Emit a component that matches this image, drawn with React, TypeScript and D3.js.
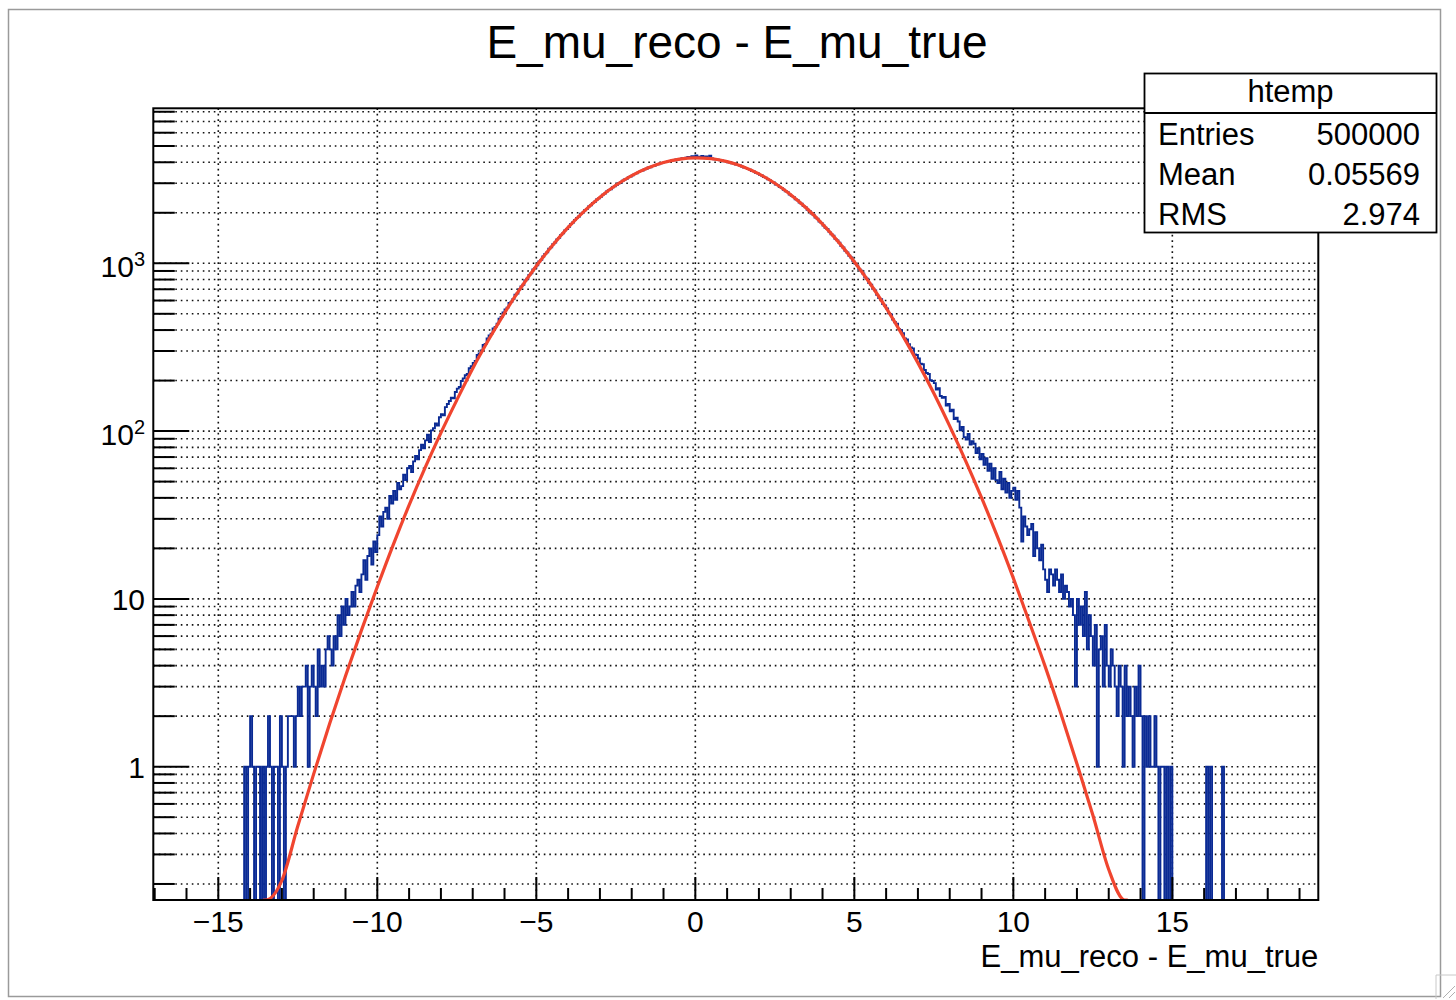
import React from "react";
import * as d3 from "d3";

// ---- histogram binning (htemp) ----
const BIN_START = -14.25;
const BIN_WIDTH = 0.0625;

// counts, left tail [-14.25, -10)
const leftTail = [
  0, 1, 0, 1, 2, 1, 0, 1, 1, 0, 1, 0, 1, 2, 1, 0, 1, 1, 0, 2,
  1, 0, 1, 2, 2, 2, 1, 2, 3, 2, 3, 3, 4, 1, 3, 4, 3, 2, 5, 3,
  4, 3, 5, 6, 5, 4, 6, 5, 8, 6, 9, 7, 10, 8, 9, 11, 9, 12, 13, 11,
  14, 17, 13, 18, 20, 16, 22, 19,
];

// counts, core left [-10, 0)
const coreLeft = [
  24, 31, 27, 33, 35, 30, 41, 37, 44, 39, 49, 45, 47, 55, 51, 60,
  62, 57, 66, 71, 68, 77, 83, 79, 88, 95, 86, 101, 104, 111, 108, 121,
  126, 124, 139, 145, 151, 158, 157, 171, 179, 183, 199, 206, 215, 219, 237, 244,
  255, 262, 284, 290, 302, 326, 331, 356, 372, 381, 409, 418, 437, 468, 479, 510,
  531, 544, 580, 589, 612, 650, 661, 701, 728, 745, 790, 808, 851, 872, 920, 939,
  974, 1025, 1048, 1097, 1136, 1162, 1221, 1245, 1298, 1330, 1389, 1417, 1476, 1508, 1571, 1602,
  1650, 1716, 1749, 1815, 1866, 1901, 1972, 2003, 2071, 2110, 2185, 2219, 2290, 2327, 2401, 2436,
  2489, 2566, 2601, 2677, 2730, 2762, 2841, 2873, 2926, 3001, 3030, 3105, 3158, 3186, 3262, 3290,
  3340, 3410, 3433, 3505, 3550, 3570, 3638, 3656, 3722, 3738, 3801, 3815, 3875, 3886, 3944, 3951,
  4010, 4012, 4068, 4070, 4115, 4108, 4162, 4149, 4190, 4231, 4198, 4262, 4305, 4240, 4352, 4288,
];

// counts, core right [0, 10)
const coreRight = [
  4398, 4310, 4275, 4360, 4280, 4331, 4246, 4372, 4222, 4170, 4190, 4143, 4105, 4098, 4050, 4061,
  4001, 3990, 3941, 3930, 3880, 3845, 3828, 3770, 3722, 3701, 3640, 3618, 3551, 3529, 3460, 3435,
  3366, 3338, 3268, 3240, 3170, 3131, 3058, 3027, 2950, 2921, 2847, 2815, 2744, 2690, 2655, 2570,
  2521, 2483, 2410, 2375, 2300, 2266, 2190, 2158, 2085, 2051, 1980, 1947, 1876, 1845, 1771, 1740,
  1679, 1630, 1601, 1538, 1490, 1461, 1398, 1370, 1325, 1268, 1241, 1186, 1160, 1108, 1083, 1030,
  995, 972, 925, 903, 870, 826, 808, 762, 745, 705, 690, 648, 621, 610, 571, 560,
  538, 503, 495, 462, 445, 437, 405, 399, 383, 356, 352, 329, 315, 311, 286, 284,
  271, 252, 250, 231, 222, 219, 201, 199, 193, 177, 180, 162, 158, 160, 142, 145,
  131, 134, 118, 120, 114, 101, 106, 92, 89, 96, 83, 87, 84, 74, 79, 68,
  73, 63, 69, 58, 64, 52, 60, 51, 49, 57, 45, 52, 43, 49, 40, 44,
];

// counts, right tail [10, 16.75)
const rightTail = [
  46, 39, 44, 35, 22, 31, 27, 24, 26, 28, 18, 25, 20, 17, 21, 15,
  13, 11, 15, 14, 12, 15, 13, 11, 14, 10, 12, 11, 9, 10, 8, 3,
  10, 7, 9, 6, 11, 5, 8, 6, 4, 7, 1, 5, 6, 3, 7, 4,
  3, 5, 4, 3, 2, 4, 3, 1, 4, 2, 3, 2, 1, 3, 2, 4,
  2, 0, 2, 1, 2, 1, 1, 2, 1, 0, 1, 1, 0, 1, 0, 1,
  0, 0, 0, 0, 0, 0, 0, 0, 0, 0, 0, 0, 0, 0, 0, 0,
  0, 1, 0, 1, 0, 0, 0, 0, 0, 1, 0, 0,
];

// Gaussian fit curve, sampled
const fitX = [
  -13.6, -13.5, -13, -12.5, -12, -11.5, -11, -10.5, -10, -9.5, -9, -8.5, -8, -7.5, -7, -6.5,
  -6, -5.5, -5, -4.5, -4, -3.5, -3, -2.5, -2, -1.5, -1, -0.5, 0, 0.5, 1, 1.5,
  2, 2.5, 3, 3.5, 4, 4.5, 5, 5.5, 6, 6.5, 7, 7.5, 8, 8.5, 9, 9.5,
  10, 10.5, 11, 11.5, 12, 12.5, 13, 13.5, 13.6,
];
const fitY = [
  0.082, 0.097, 0.21, 0.443, 0.906, 1.8, 3.47, 6.49, 11.8, 21.0, 36.2, 60.3, 97.6, 153, 236, 350,
  505, 708, 963, 1273, 1637, 2041, 2476, 2916, 3333, 3697, 3989, 4177, 4254, 4205, 4036, 3766,
  3410, 2998, 2564, 2127, 1713, 1342, 1021, 755, 542, 377, 255, 168, 107, 66.5, 40.1, 23.5,
  13.3, 7.3, 3.96, 2.06, 1.04, 0.515, 0.244, 0.113, 0.098,
];

const xMajorTicks = [-15, -10, -5, 0, 5, 10, 15];
const yDecades = [1, 10, 100, 1000];
const yDecadeExp = [0, 1, 2, 3];
const statsLabels = ["Entries", "Mean", "RMS"];
const statsValues = ["500000", "0.05569", "2.974"];
const TITLE = "E_mu_reco - E_mu_true";
const X_TITLE = "E_mu_reco - E_mu_true";
const HIST_NAME = "htemp";

const FONT = "'Liberation Sans', Arial, Helvetica, sans-serif";
const BLUE = "#0a2a94";
const RED = "#f0452f";

export default function App() {
  const W = 1456;
  const H = 1000;
  const fr = { left: 153.3, right: 1318.3, top: 108.3, bottom: 900 };

  const x = d3.scaleLinear().domain([-17.044, 19.59]).range([fr.left, fr.right]);
  const y = d3.scaleLog().domain([0.1605, 8388]).range([fr.bottom, fr.top]);

  const counts = [...leftTail, ...coreLeft, ...coreRight, ...rightTail];
  const yb = fr.bottom;
  let histPath = `M${x(BIN_START)},${yb}`;
  counts.forEach((v, i) => {
    const x0 = x(BIN_START + i * BIN_WIDTH);
    const x1 = x(BIN_START + (i + 1) * BIN_WIDTH);
    const yy = v > 0 ? Math.min(y(v), yb) : yb;
    histPath += `L${x0},${yy}L${x1},${yy}`;
  });
  histPath += `L${x(BIN_START + counts.length * BIN_WIDTH)},${yb}`;

  const fitPts: [number, number][] = fitX.map((fx, i) => [x(fx), Math.min(y(fitY[i]), yb)]);
  const fitPath = d3.line<[number, number]>().x((d) => d[0]).y((d) => d[1]).curve(d3.curveMonotoneX)(fitPts) || "";

  const [dx0, dx1] = x.domain();
  const xMinor: number[] = d3.range(Math.ceil(dx0), Math.floor(dx1) + 1).filter((v) => !xMajorTicks.includes(v));

  const [dy0, dy1] = y.domain();
  const yAll: { v: number; major: boolean }[] = [];
  for (let k = -1; k <= 3; k++) {
    for (let m = 1; m <= 9; m++) {
      const v = m * Math.pow(10, k);
      if (v >= dy0 && v <= dy1) yAll.push({ v, major: m === 1 });
    }
  }

  const gridStyle = { stroke: "#111", strokeWidth: 1.6, strokeDasharray: "1.6 3.9", fill: "none" } as const;

  const sb = { x: 1144.5, y: 73.5, w: 292, h: 159, sep: 113 };

  return (
    <svg
      width={W}
      height={H}
      style={{ position: "absolute", left: 0, top: 0, background: "#fff" }}
      fontFamily={FONT}
    >
      <rect x={0} y={0} width={W} height={H} fill="#fff" />
      <rect x={8.5} y={9.5} width={1432} height={987} fill="none" stroke="#9a9a9a" strokeWidth={1.5} />
      <path d="M1436,999 L1436,975 L1456,975" fill="none" stroke="#c8c8c8" strokeWidth={1} />
      <path d="M1443,998 L1455,986 M1449,998 L1455,992" fill="none" stroke="#b0b0b0" strokeWidth={1} />

      <defs>
        <clipPath id="frameClip">
          <rect x={fr.left} y={fr.top} width={fr.right - fr.left} height={fr.bottom - fr.top} />
        </clipPath>
      </defs>

      {/* grid */}
      <g>
        {xMajorTicks.map((t) => (
          <line key={"gx" + t} x1={x(t)} x2={x(t)} y1={fr.top} y2={fr.bottom} style={gridStyle} />
        ))}
        {yAll.map((t) => (
          <line key={"gy" + t.v} x1={fr.left} x2={fr.right} y1={y(t.v)} y2={y(t.v)} style={gridStyle} />
        ))}
      </g>

      {/* histogram + fit */}
      <g clipPath="url(#frameClip)">
        <path d={histPath} fill="none" stroke={BLUE} strokeWidth={1.9} strokeLinejoin="miter" />
        <path d={fitPath} fill="none" stroke={RED} strokeWidth={3.2} strokeLinejoin="round" />
      </g>

      {/* frame */}
      <rect
        x={fr.left}
        y={fr.top}
        width={fr.right - fr.left}
        height={fr.bottom - fr.top}
        fill="none"
        stroke="#000"
        strokeWidth={2}
      />

      {/* x ticks */}
      {xMajorTicks.map((t) => (
        <line key={"xt" + t} x1={x(t)} x2={x(t)} y1={fr.bottom} y2={fr.bottom - 23} stroke="#000" strokeWidth={2} />
      ))}
      {xMinor.map((t) => (
        <line key={"xm" + t} x1={x(t)} x2={x(t)} y1={fr.bottom} y2={fr.bottom - 12} stroke="#000" strokeWidth={2} />
      ))}
      {xMajorTicks.map((t) => (
        <text key={"xl" + t} x={x(t)} y={932} fontSize={30} textAnchor="middle" fill="#000">
          {t < 0 ? "\u2212" + Math.abs(t) : String(t)}
        </text>
      ))}
      <text x={fr.right} y={967} fontSize={31} textAnchor="end" fill="#000">
        {X_TITLE}
      </text>

      {/* y ticks */}
      {yAll.map((t) => (
        <line
          key={"yt" + t.v}
          x1={fr.left}
          x2={fr.left + (t.major ? 36 : 21.5)}
          y1={y(t.v)}
          y2={y(t.v)}
          stroke="#000"
          strokeWidth={2}
        />
      ))}
      {yDecades.map((v, i) => {
        const e = yDecadeExp[i];
        const ty = y(v);
        if (e === 0)
          return (
            <text key={"yl" + v} x={145} y={ty + 11} fontSize={30} textAnchor="end">
              1
            </text>
          );
        if (e === 1)
          return (
            <text key={"yl" + v} x={145} y={ty + 11} fontSize={30} textAnchor="end">
              10
            </text>
          );
        return (
          <text key={"yl" + v} x={145} y={ty + 14} fontSize={30} textAnchor="end">
            10
            <tspan dy={-11} fontSize={20}>
              {e}
            </tspan>
          </text>
        );
      })}

      {/* title */}
      <text x={737} y={58} fontSize={46} textAnchor="middle" fill="#000">
        {TITLE}
      </text>

      {/* stats box */}
      <g>
        <rect x={sb.x} y={sb.y} width={sb.w} height={sb.h} fill="#fff" stroke="#000" strokeWidth={1.8} />
        <line x1={sb.x} x2={sb.x + sb.w} y1={sb.sep} y2={sb.sep} stroke="#000" strokeWidth={1.8} />
        <text x={sb.x + sb.w / 2} y={102} fontSize={31} textAnchor="middle">
          {HIST_NAME}
        </text>
        {statsLabels.map((lab, i) => (
          <g key={lab}>
            <text x={1158} y={145 + i * 40} fontSize={31}>
              {lab}
            </text>
            <text x={1420} y={145 + i * 40} fontSize={31} textAnchor="end">
              {statsValues[i]}
            </text>
          </g>
        ))}
      </g>
    </svg>
  );
}
